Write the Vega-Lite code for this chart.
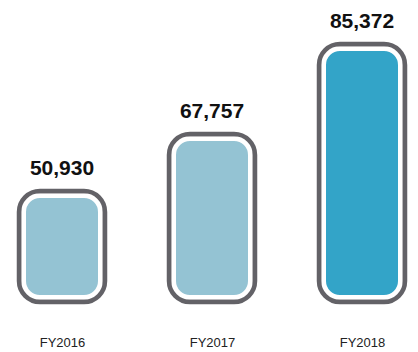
{
  "$schema": "https://vega.github.io/schema/vega-lite/v6.json",
  "width": 418,
  "height": 352,
  "padding": 0,
  "autosize": {"type": "none"},
  "background": "white",
  "config": {"view": {"stroke": null}},
  "data": {
    "values": [
      {"year": "FY2016", "value": 50930, "label": "50,930"},
      {"year": "FY2017", "value": 67757, "label": "67,757"},
      {"year": "FY2018", "value": 85372, "label": "85,372"}
    ]
  },
  "encoding": {
    "x": {
      "field": "year",
      "type": "ordinal",
      "scale": {"type": "point", "range": [62, 362], "padding": 0},
      "axis": {
        "title": null,
        "domain": false,
        "ticks": false,
        "offset": -50,
        "labelAngle": 0,
        "labelPadding": 34,
        "labelFont": "Liberation Sans",
        "labelFontSize": 13,
        "labelColor": "#222222"
      }
    },
    "y": {
      "field": "value",
      "type": "quantitative",
      "scale": {"domain": [0, 50930, 67757, 85372], "range": [302, 191, 134, 44]},
      "axis": null
    }
  },
  "layer": [
    {
      "mark": {"type": "bar", "width": 86, "cornerRadius": 21, "stroke": "white", "strokeWidth": 14},
      "encoding": {
        "color": {
          "field": "year",
          "type": "nominal",
          "scale": {"domain": ["FY2016", "FY2017", "FY2018"], "range": ["#94C3D3", "#94C3D3", "#33A4C8"]},
          "legend": null
        }
      }
    },
    {
      "mark": {"type": "bar", "width": 86, "cornerRadius": 21, "fill": null, "fillOpacity": 0, "stroke": "#636267", "strokeWidth": 4.5}
    },
    {
      "mark": {"type": "text", "baseline": "alphabetic", "align": "center", "dy": -16, "font": "Liberation Sans", "fontWeight": "bold", "fontSize": 21, "color": "#111111"},
      "encoding": {"text": {"field": "label"}}
    }
  ]
}
